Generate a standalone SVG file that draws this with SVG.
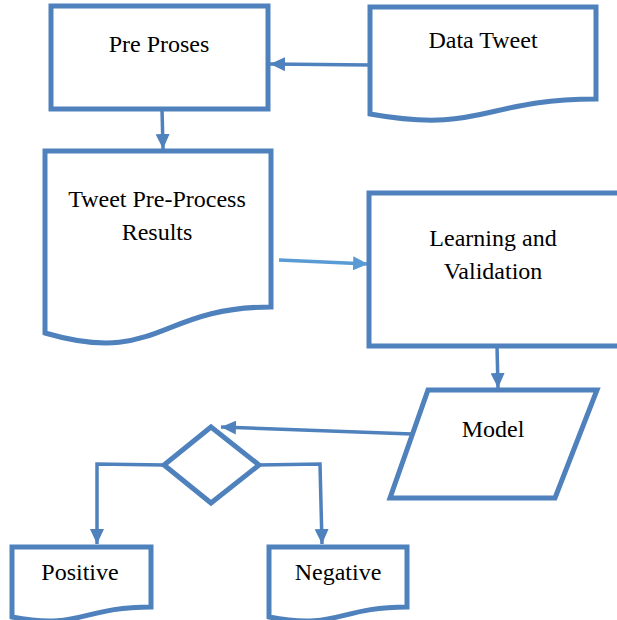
<svg xmlns="http://www.w3.org/2000/svg" width="617" height="620" viewBox="0 0 617 620">
<style>
.shape{fill:#fff;stroke:#4f81bd;stroke-width:5;stroke-linejoin:miter}
.conn{fill:none;stroke:#4f81bd;stroke-width:3.5}
.conn2{fill:none;stroke:#5b9bd5;stroke-width:3.5}
.lbl{font-family:'Liberation Serif','Times New Roman',serif;font-size:24px;fill:#000;text-anchor:middle}
</style>
<defs>
<marker id="ah" markerUnits="userSpaceOnUse" markerWidth="16" markerHeight="14" refX="15" refY="7" orient="auto">
<path d="M0,0 L15,7 L0,14 Z" fill="#4f81bd"/>
</marker>
<marker id="ah2" markerUnits="userSpaceOnUse" markerWidth="16" markerHeight="14" refX="15" refY="7" orient="auto">
<path d="M0,0 L15,7 L0,14 Z" fill="#5b9bd5"/>
</marker>
</defs>
<rect width="617" height="620" fill="#fff"/>
<g id="connectors">
<line class="conn" x1="370" y1="65" x2="270" y2="64" marker-end="url(#ah)"/>
<line class="conn" x1="162" y1="109" x2="163" y2="149" marker-end="url(#ah)"/>
<line class="conn2" x1="279" y1="260" x2="368" y2="264" marker-end="url(#ah2)"/>
<line class="conn" x1="497" y1="346" x2="498" y2="388" marker-end="url(#ah)"/>
<line class="conn" x1="412" y1="434" x2="221" y2="427" marker-end="url(#ah)"/>
<polyline class="conn" points="164,465 97,464 97,544" marker-end="url(#ah)"/>
<polyline class="conn" points="258,465 320,464 322,544" marker-end="url(#ah)"/>
</g>
<g id="pre-proses">
<rect class="shape" x="51" y="6" width="217" height="103"/>
<text class="lbl" x="159" y="52">Pre Proses</text>
</g>
<g id="data-tweet">
<path class="shape" d="M370,7 H596 V99 C483,99 483,134 370,114 Z"/>
<text class="lbl" x="483" y="48">Data Tweet</text>
</g>
<g id="tweet-results">
<path class="shape" d="M45,151 H271 V307 C158,307 158,366 45,333 Z"/>
<text class="lbl" x="157" y="207">Tweet Pre-Process</text>
<text class="lbl" x="157" y="240">Results</text>
</g>
<g id="learning">
<rect class="shape" x="369" y="193" width="255" height="153"/>
<text class="lbl" x="493" y="246">Learning and</text>
<text class="lbl" x="493" y="279">Validation</text>
</g>
<g id="model">
<polygon class="shape" points="428,390 597,390 555,498 390,498"/>
<text class="lbl" x="493" y="437">Model</text>
</g>
<g id="decision">
<polygon class="shape" points="211,427 259,465 211,503 164,465"/>
</g>
<g id="positive">
<path class="shape" d="M12,547 H151 V607 C81,607 81,630 12,617 Z"/>
<text class="lbl" x="80" y="580">Positive</text>
</g>
<g id="negative">
<path class="shape" d="M269,547 H407 V607 C338,607 338,630 269,617 Z"/>
<text class="lbl" x="338" y="580">Negative</text>
</g>
</svg>
